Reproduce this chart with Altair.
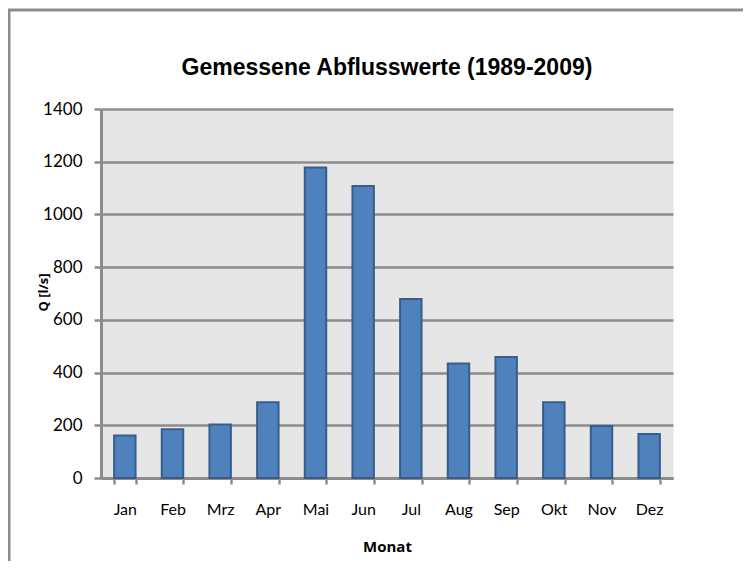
import altair as alt
import pandas as pd

months = ["Jan", "Feb", "Mrz", "Apr", "Mai", "Jun", "Jul", "Aug", "Sep", "Okt", "Nov", "Dez"]
values = [161, 185, 203, 287, 1178, 1108, 679, 434, 459, 287, 197, 167]
y_ticks = [0, 200, 400, 600, 800, 1000, 1200, 1400]
title_text = "Gemessene Abflusswerte (1989-2009)"

df = pd.DataFrame({"Monat": months, "Q": values})

GRAY = "#8c8c8c"
LABEL_FONT = "Lato"

bars = alt.Chart(df).mark_bar(
    fill="#4f81bd", stroke="#385d8a", strokeWidth=2
).encode(
    x=alt.X("Monat:N", sort=months,
            scale=alt.Scale(paddingInner=0.55, paddingOuter=0.275),
            axis=alt.Axis(title="Monat", labelAngle=0, tickBand="extent",
                          grid=False, tickSize=6, labelPadding=17,
                          titlePadding=22, titleFontSize=15,
                          titleFontWeight="bold", titleFont="Open Sans")),
    y=alt.Y("Q:Q", scale=alt.Scale(domain=[0, 1400], nice=False),
            axis=alt.Axis(values=y_ticks, format="d", title="Q [l/s]", grid=True,
                          tickSize=7, labelPadding=12, labelFontSize=17,
                          titleX=-58, titleY=183, titleAngle=-90,
                          titleAlign="center", titleBaseline="middle",
                          titleFontSize=13, titleFontWeight="bold",
                          titleFont="Open Sans"))
)

frame = alt.Chart(alt.Data(values=[{}])).mark_rect(
    fill="transparent", stroke=GRAY, strokeWidth=3
).encode(
    x=alt.value(-92), x2=alt.value(720),
    y=alt.value(-99), y2=alt.value(600)
)

title = alt.Chart(alt.Data(values=[{"t": title_text}])).mark_text(
    fontSize=23, fontWeight="bold", font="Liberation Sans", color="black",
    align="center", baseline="alphabetic"
).encode(
    text="t:N", x=alt.value(286), y=alt.value(-34)
)

chart = alt.layer(frame, bars, title).properties(
    width=572,
    height=369,
    background="white",
    autosize=alt.AutoSizeParams(type="none"),
    padding={"left": 93, "top": 101, "right": 70, "bottom": 83},
).configure_view(
    fill="#e6e6e6", stroke="transparent"
).configure_axis(
    domainColor=GRAY, domainWidth=3,
    tickColor=GRAY, tickWidth=2.5,
    gridColor=GRAY, gridWidth=2.5, gridOpacity=1,
    labelFont=LABEL_FONT, labelFontSize=16, labelColor="black",
    titleColor="black"
)

chart.save("out.html", embed_options={"renderer": "svg", "actions": False})
